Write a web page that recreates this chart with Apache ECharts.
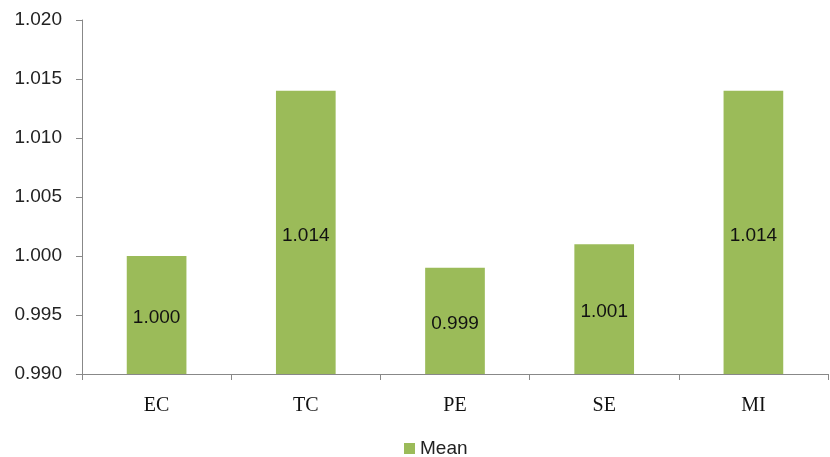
<!DOCTYPE html>
<html>
<head>
<meta charset="utf-8">
<script src="https://cdn.jsdelivr.net/npm/echarts@6/dist/echarts.min.js"></script>
<style>
  html, body { margin: 0; padding: 0; background: #fff; }
  #main { width: 830px; height: 457px; }
</style>
</head>
<body>
<div id="main"></div>
<script>
// data
var categories = ['EC', 'TC', 'PE', 'SE', 'MI'];
var meanValues = [1.000, 1.014, 0.999, 1.001, 1.014];

var chart = echarts.init(document.getElementById('main'));
var option = {
  animation: false,
  grid: { left: 82, right: 2, top: 20, bottom: 83 },
  legend: {
    top: 434,
    left: 399,
    itemWidth: 11,
    itemHeight: 11,
    itemGap: 6,
    icon: 'rect',
    textStyle: { fontFamily: 'Liberation Sans', fontSize: 19, color: '#222' },
    data: ['Mean']
  },
  xAxis: {
    type: 'category',
    data: categories,
    axisLine: { lineStyle: { color: '#888', width: 1 } },
    axisTick: { show: true, alignWithLabel: false, length: 6, lineStyle: { color: '#888' } },
    axisLabel: { fontFamily: 'Liberation Serif', fontSize: 20, color: '#111', margin: 22 }
  },
  yAxis: {
    type: 'value',
    min: 0.990,
    max: 1.020,
    interval: 0.005,
    axisLine: { show: true, lineStyle: { color: '#888', width: 1 } },
    axisTick: { show: true, length: 6, lineStyle: { color: '#888' } },
    splitLine: { show: false },
    axisLabel: {
      fontFamily: 'Liberation Sans', fontSize: 19, color: '#222', margin: 20,
      formatter: function (v) { return v.toFixed(3); }
    }
  },
  series: [{
    name: 'Mean',
    type: 'bar',
    data: meanValues,
    barWidth: '40%',
    itemStyle: { color: '#9BBB59' },
    label: {
      show: true,
      position: 'inside',
      offset: [0, 3],
      fontFamily: 'Liberation Sans',
      fontSize: 19,
      color: '#111',
      formatter: function (p) { return p.value.toFixed(3); }
    }
  }]
};
chart.setOption(option);
</script>
</body>
</html>
